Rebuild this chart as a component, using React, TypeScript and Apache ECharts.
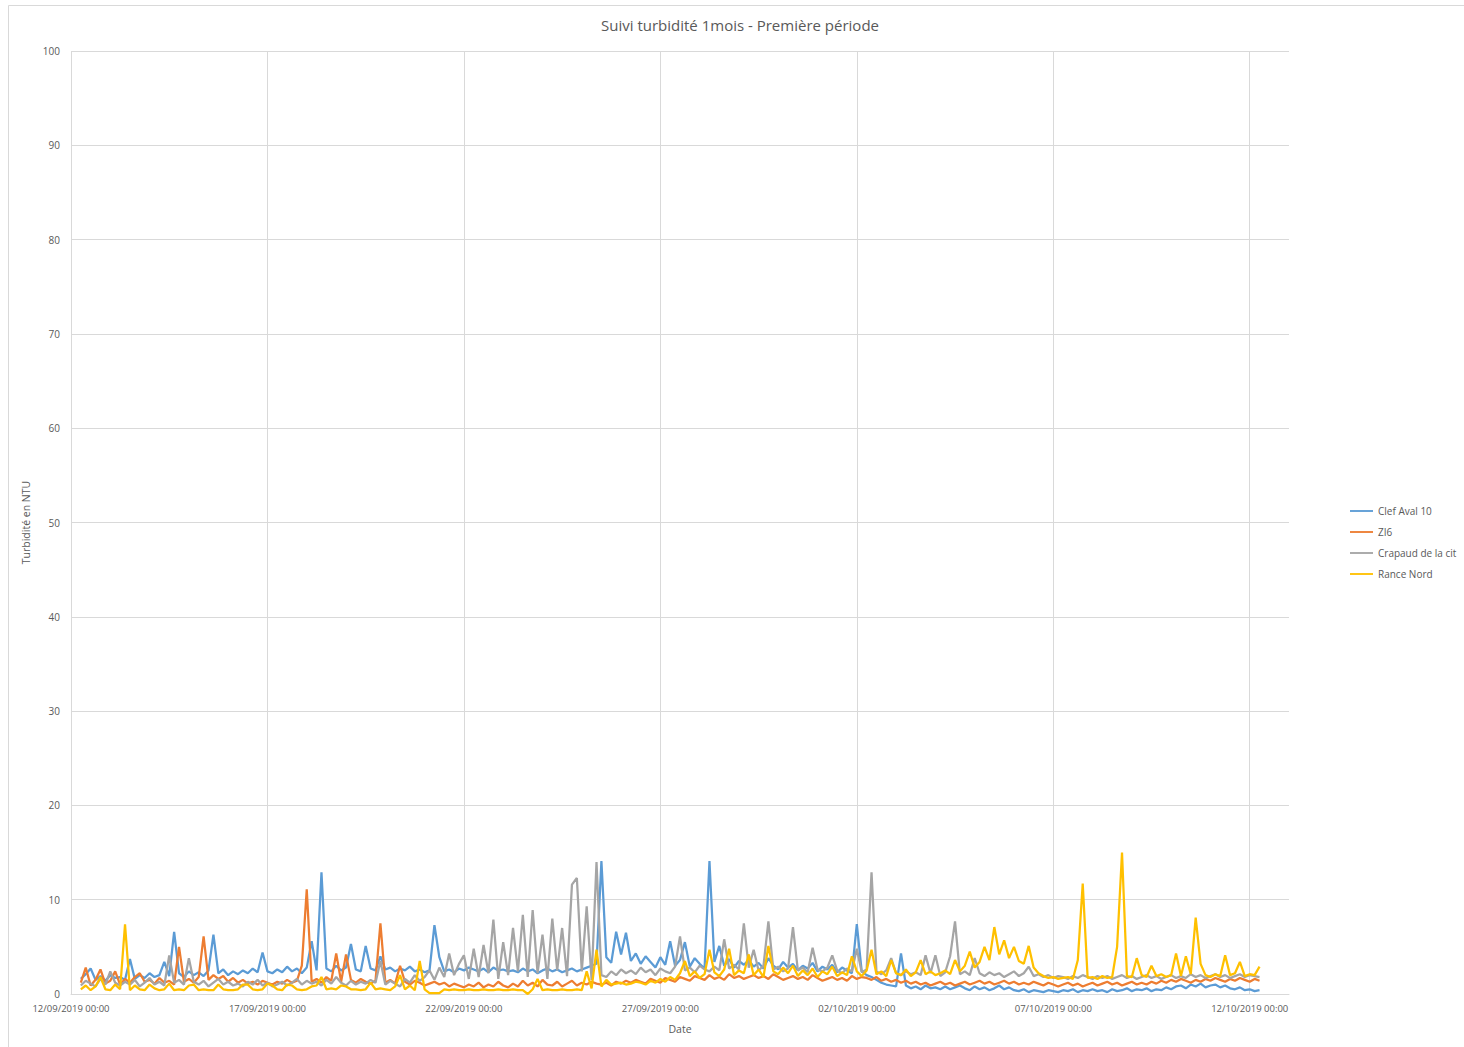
import React, { useEffect, useRef } from "react";
import * as echarts from "echarts";

const TITLE = "Suivi turbidité 1mois - Première période";
const SERIES_NAMES = ["Clef Aval 10", "ZI6", "Crapaud de la cit", "Rance Nord"];
const COLORS = ["#5B9BD5", "#ED7D31", "#A5A5A5", "#FFC000"];
const X_TICK_LABELS = [
  "12/09/2019 00:00",
  "17/09/2019 00:00",
  "22/09/2019 00:00",
  "27/09/2019 00:00",
  "02/10/2019 00:00",
  "07/10/2019 00:00",
  "12/10/2019 00:00",
];
// samples every 3 h, first one on 12/09/2019 06:00 (days counted from 12/09/2019 00:00)
const FIRST_SAMPLE_DAY = 0.25;
const SAMPLE_STEP_DAY = 0.125;

const clefAval10 = [
  1.6, 2.1, 2.7, 1.5, 1.9, 1.4, 2.0, 1.7,
  1.8, 1.5, 3.7, 1.6, 2.0, 1.7, 2.2, 1.8,
  2.0, 3.4, 1.9, 6.6, 2.2, 1.8, 2.4, 2.0,
  2.3, 1.9, 2.5, 6.3, 2.2, 2.6, 2.0, 2.4,
  2.1, 2.5, 2.2, 2.7, 2.3, 4.4, 2.4, 2.2,
  2.6, 2.3, 2.9, 2.4, 2.7, 2.2, 2.8, 5.6,
  2.5, 12.9, 2.7, 2.4, 3.0, 2.5, 2.8, 5.3,
  2.6, 2.4, 5.1, 2.7, 2.5, 4.0, 2.6, 2.8,
  2.4, 2.7, 2.5, 2.9, 2.4, 2.6, 2.3, 2.5,
  7.3, 3.9, 2.4, 2.6, 2.3, 2.7, 2.5, 2.8,
  2.6, 2.4, 2.7, 2.3, 2.8, 2.5, 2.6, 2.4,
  2.5, 2.3, 2.7, 2.4, 2.6, 2.2, 2.5, 2.7,
  2.4, 2.6, 2.3, 2.5, 2.7, 2.4, 2.6, 2.8,
  3.0, 3.2, 14.1, 3.9, 3.3, 6.6, 4.2, 6.5,
  3.5, 4.3, 3.2, 4.0, 3.4, 2.8, 3.9, 3.1,
  5.6, 3.0, 3.6, 5.5, 2.9, 3.8, 3.2, 2.7,
  14.1, 3.4, 5.1, 3.0, 3.7, 2.8, 3.5, 3.1,
  3.6, 2.9, 3.3, 2.7, 3.8, 3.0, 2.6, 3.4,
  2.8, 3.2, 2.5, 3.0, 2.7, 3.3, 2.4, 2.9,
  2.6, 3.1, 2.3, 2.8, 2.5, 2.2, 7.4, 2.4,
  2.0, 1.8, 1.5, 1.2, 1.0, 0.9, 0.8, 4.3,
  0.9, 0.6, 0.8, 0.5, 0.9, 0.6, 0.7, 0.5,
  0.8, 0.5, 0.7, 0.9, 0.6, 0.4, 0.8, 0.5,
  0.7, 0.4, 0.6, 0.9, 0.5, 0.7, 0.4, 0.3,
  0.5, 0.2, 0.4, 0.3, 0.2, 0.4, 0.3, 0.2,
  0.4, 0.3, 0.5, 0.2, 0.4, 0.3, 0.5, 0.3,
  0.4, 0.2, 0.5, 0.3, 0.4, 0.6, 0.3, 0.5,
  0.4, 0.6, 0.3, 0.5, 0.4, 0.7, 0.5, 0.8,
  0.9, 0.6, 1.0, 0.8, 1.1, 0.7, 0.9, 1.0,
  0.7, 0.9, 0.6, 0.5, 0.7, 0.4, 0.5, 0.3,
  0.4,
];

const zi6 = [
  1.2, 2.8, 0.9, 1.5, 2.6, 1.1, 1.4, 2.4,
  1.0, 1.6, 1.2, 1.8, 2.2, 1.3, 1.5, 1.1,
  1.7, 1.2, 1.4, 1.0, 5.0, 1.3, 1.6, 1.2,
  1.8, 6.1, 1.5, 2.0, 1.6, 1.9, 1.3, 1.7,
  1.2, 1.5, 1.1, 1.3, 1.0, 1.4, 1.2, 1.0,
  1.3, 1.1, 1.5, 1.2, 1.4, 3.0, 11.1, 1.3,
  1.6, 1.2, 1.8, 1.4, 4.3, 1.3, 4.2, 1.5,
  1.2, 1.6, 1.3, 1.1, 1.4, 7.5, 1.2, 1.5,
  1.1, 3.0, 1.3, 1.0, 1.4, 1.2, 0.9, 1.1,
  1.3, 1.0, 1.2, 0.8, 1.1, 0.9, 0.7, 1.0,
  0.8, 1.2, 0.7, 1.0, 0.8, 1.3, 0.9, 0.7,
  1.1, 0.8, 1.4, 0.9, 1.2, 0.8, 1.5, 1.0,
  0.9, 1.3, 0.8, 1.1, 1.4, 0.9, 1.2, 1.0,
  1.3, 1.1, 1.0, 1.2, 0.9, 1.3, 1.1, 1.4,
  1.2, 1.5, 1.3, 1.1, 1.6, 1.4, 1.2, 1.7,
  1.5, 1.3, 1.8, 1.6, 1.4, 1.9, 1.7, 1.5,
  2.0, 1.6, 1.8, 1.5, 2.1, 1.7, 1.9, 1.6,
  1.8, 2.0, 1.7, 1.9, 1.6, 2.1, 1.8, 1.5,
  1.7, 1.9, 1.6, 1.8, 1.5, 2.0, 1.7, 1.4,
  1.6, 1.8, 1.5, 1.7, 1.4, 1.9, 1.6, 1.8,
  1.7, 1.5, 1.8, 1.4, 1.6, 1.3, 1.5, 1.2,
  1.4, 1.1, 1.3, 1.0, 1.2, 0.9, 1.1, 1.3,
  1.0, 1.2, 0.9, 1.1, 1.3, 1.0, 1.2, 1.4,
  1.1, 1.3, 1.0, 1.2, 1.4, 1.1, 1.3, 1.0,
  1.2, 1.0, 1.3, 1.1, 0.9, 1.2, 1.0, 0.8,
  1.0, 1.2, 0.9, 1.1, 0.8, 1.0, 1.2, 0.9,
  1.1, 1.3, 1.0, 1.2, 0.9, 1.1, 1.3, 1.0,
  1.2, 1.0, 1.3, 1.1, 1.4, 1.2, 1.5, 1.3,
  1.6, 1.4, 1.2, 1.5, 1.3, 1.6, 1.4, 1.7,
  1.5, 1.3, 1.6, 1.4, 1.7, 1.5, 1.3, 1.6,
  1.4,
];

const crapaud = [
  0.9, 1.4, 1.1, 0.8, 1.6, 1.0, 2.4, 1.2,
  0.9, 1.3, 1.0, 1.5, 0.8, 1.2, 1.7, 1.0,
  1.3, 0.9, 4.1, 1.2, 1.5, 1.0, 3.8, 1.3,
  1.0, 1.4, 0.8, 1.2, 1.6, 1.0, 1.3, 0.9,
  1.1, 0.8, 1.3, 1.0, 1.5, 0.9, 1.2, 0.8,
  1.0, 1.3, 0.9, 1.2, 1.6, 1.0, 1.4, 1.1,
  1.3, 0.9, 1.5, 1.1, 1.8, 1.2, 0.9, 1.4,
  1.0, 1.3, 1.1, 1.5, 1.2, 3.5, 1.0, 1.4,
  1.1, 0.8, 1.6, 1.2, 2.0, 1.4, 1.8, 2.5,
  1.5, 2.8, 1.8, 4.3, 2.0, 3.2, 4.1, 1.6,
  4.8, 1.8, 5.2, 2.2, 7.9, 1.6, 5.5, 2.0,
  7.0, 2.4, 8.4, 1.8, 8.9, 2.2, 6.3, 1.6,
  8.0, 2.5, 7.0, 1.9, 11.6, 12.3, 2.4, 9.3,
  1.5, 14.0, 2.0, 1.8, 2.4, 2.0, 2.6, 2.2,
  2.5, 2.1, 2.8, 2.3, 2.6, 2.0, 2.7, 2.4,
  2.2, 2.9, 6.1, 2.5, 2.8, 2.3, 3.0, 2.6,
  2.4, 2.9, 2.5, 5.8, 2.7, 3.1, 2.6, 7.5,
  2.8, 4.7, 2.5, 3.0, 7.7, 2.6, 2.9, 2.4,
  2.7, 7.1, 2.5, 2.8, 2.3, 4.9, 2.6, 2.4,
  2.8, 4.1, 2.5, 2.2, 2.7, 2.4, 4.8, 2.3,
  2.6, 12.9, 2.4, 2.1, 2.5, 3.8, 2.2, 2.0,
  2.4, 2.1, 2.3, 2.0, 4.1, 2.2, 4.1, 1.9,
  2.3, 4.0, 7.7, 2.1, 2.4, 2.0, 3.8, 2.2,
  1.9, 2.3, 2.0, 2.2, 1.8, 2.1, 2.4, 1.9,
  2.2, 2.9, 1.9, 2.1, 1.8, 2.0, 1.7, 1.9,
  1.8, 1.6, 1.9, 1.7, 2.0, 1.8, 1.6, 1.9,
  1.7, 1.9, 1.6, 1.8, 2.0, 1.7, 1.9, 1.6,
  1.8, 2.0, 1.7, 1.9, 1.6, 1.8, 2.0, 1.7,
  1.9, 1.7, 2.1, 1.8, 2.0, 1.7, 1.9, 2.1,
  1.8, 2.0, 1.7, 1.9, 2.1, 1.8, 2.0, 1.9,
  1.8,
];

const ranceNord = [
  0.5, 0.9, 0.4, 0.8, 1.8, 0.5, 0.4, 1.0,
  0.5, 7.4, 0.4, 0.9, 0.5, 0.4, 1.0, 0.6,
  0.4, 0.5, 1.1, 0.4, 0.5, 0.4, 0.9, 1.0,
  0.4, 0.5, 0.4, 0.4, 1.0, 0.5, 0.4, 0.4,
  0.5, 1.0, 1.0, 0.5, 0.4, 0.5, 1.1, 0.9,
  0.5, 0.4, 1.0, 0.9, 0.5, 0.4, 0.5, 0.8,
  0.9, 1.8, 0.5, 0.6, 0.5, 0.9, 0.8, 0.5,
  0.5, 0.4, 0.5, 1.2, 0.5, 0.6, 0.5, 0.4,
  0.8, 2.0, 0.5, 0.9, 0.4, 3.5, 0.5, 0.1,
  0.1, 0.1, 0.5, 0.4, 0.5, 0.4, 0.4, 0.5,
  0.4, 0.4, 0.5, 0.4, 0.4, 0.5, 0.4, 0.4,
  0.5, 0.4, 0.4, 0.0, 0.5, 1.6, 0.4, 0.5,
  0.4, 0.4, 0.5, 0.4, 0.4, 0.5, 0.4, 2.4,
  0.6, 4.7, 0.8, 1.5, 1.0, 1.1, 1.2, 1.0,
  1.1, 1.3, 1.2, 1.0, 1.4, 1.2, 1.6, 1.3,
  1.8, 1.5, 2.2, 3.5, 1.9, 2.4, 1.7, 2.1,
  4.7, 2.3, 1.9, 2.6, 4.8, 2.0, 2.5, 2.2,
  4.2, 2.0, 2.6, 1.8, 5.1, 2.4, 2.1, 2.8,
  2.2, 3.0, 1.9, 2.5, 2.0, 2.7, 1.8, 2.4,
  2.1, 2.9, 1.9, 2.3, 2.0, 4.0, 2.4, 1.9,
  2.5, 4.7, 2.1, 2.4, 1.9, 3.6, 2.2, 2.0,
  2.6, 1.9, 2.3, 3.6, 2.1, 2.4, 2.0, 2.2,
  2.5, 2.1, 3.6, 2.4, 3.0, 4.5, 2.8, 3.4,
  5.0, 3.6, 7.1, 4.2, 5.7, 3.8, 5.0, 3.5,
  3.2, 5.1, 2.8, 2.2, 1.9, 1.7, 1.8, 1.6,
  1.7, 1.8, 1.6, 3.6, 11.7, 1.7, 1.8, 1.6,
  1.9, 1.7, 1.8, 5.0, 15.0, 1.9, 1.8, 3.8,
  2.0, 1.8, 3.0, 1.9, 2.1, 1.8, 2.0, 4.3,
  1.9, 4.0, 2.1, 8.1, 3.2, 2.0, 1.8, 2.1,
  1.9, 4.1, 2.0, 2.2, 3.4, 1.9, 2.1, 2.0,
  2.9,
];

const SERIES_VALUES = [clefAval10, zi6, crapaud, ranceNord];

const FONT = "'Open Sans', 'Noto Sans', sans-serif";
const TEXT_COLOR = "#595959";
const GRID_COLOR = "#D9D9D9";

export default function App() {
  const ref = useRef<HTMLDivElement>(null);

  useEffect(() => {
    if (!ref.current) return;
    const chart = echarts.init(ref.current, null, { renderer: "svg" });

    const series = SERIES_VALUES.map((vals, s) => ({
      name: SERIES_NAMES[s],
      type: "line",
      data: vals.map((v, i) => [FIRST_SAMPLE_DAY + i * SAMPLE_STEP_DAY, v]),
      showSymbol: false,
      symbol: "none",
      lineStyle: { width: 2.25, color: COLORS[s] },
      itemStyle: { color: COLORS[s] },
      z: 2 + s,
    }));

    chart.setOption({
      animation: false,
      backgroundColor: "#FFFFFF",
      textStyle: { fontFamily: FONT },
      graphic: [
        {
          type: "rect",
          shape: { x: 8.5, y: 5.5, width: 1500, height: 1100 },
          style: { fill: "none", stroke: GRID_COLOR, lineWidth: 1 },
          silent: true,
        },
        {
          type: "text",
          x: 740,
          y: 25,
          style: {
            text: TITLE,
            fill: TEXT_COLOR,
            font: `15px ${FONT}`,
            textAlign: "center",
            textVerticalAlign: "middle",
          },
        },
      ],
      grid: { left: 71, right: 175, top: 51, bottom: 53, containLabel: false },
      legend: {
        orient: "vertical",
        left: 1345,
        top: 499,
        itemWidth: 23,
        itemHeight: 14,
        itemGap: 7,
        icon: "path://M0,6 L25,6 L25,8 L0,8 Z",
        textStyle: { color: TEXT_COLOR, fontSize: 10, fontFamily: FONT, lineHeight: 14, height: 14 },
        data: SERIES_NAMES,
      },
      xAxis: {
        type: "value",
        min: 0,
        max: 31,
        interval: 5,
        name: "Date",
        nameLocation: "middle",
        nameGap: 29,
        nameTextStyle: { color: TEXT_COLOR, fontSize: 10.5 },
        axisLine: { show: true, lineStyle: { color: GRID_COLOR, width: 1 } },
        axisTick: { show: false },
        axisLabel: {
          color: TEXT_COLOR,
          fontSize: 9.5,
          margin: 9,
          showMaxLabel: false,
          formatter: (v: number) => {
            const k = v / 5;
            return Math.abs(k - Math.round(k)) < 1e-6 ? X_TICK_LABELS[Math.round(k)] ?? "" : "";
          },
        },
        splitLine: { show: true, showMaxLine: false, lineStyle: { color: GRID_COLOR, width: 1 } },
      },
      yAxis: {
        type: "value",
        min: 0,
        max: 100,
        interval: 10,
        name: "Turbidité en NTU",
        nameLocation: "middle",
        nameGap: 36,
        nameRotate: 90,
        nameTextStyle: { color: TEXT_COLOR, fontSize: 10.5 },
        axisLine: { show: false },
        axisTick: { show: false },
        axisLabel: { color: TEXT_COLOR, fontSize: 10, margin: 11 },
        splitLine: { show: true, lineStyle: { color: GRID_COLOR, width: 1 } },
      },
      series,
    });

    return () => chart.dispose();
  }, []);

  return (
    <div
      ref={ref}
      style={{ position: "absolute", left: 0, top: 0, width: 1464, height: 1047 }}
    />
  );
}
